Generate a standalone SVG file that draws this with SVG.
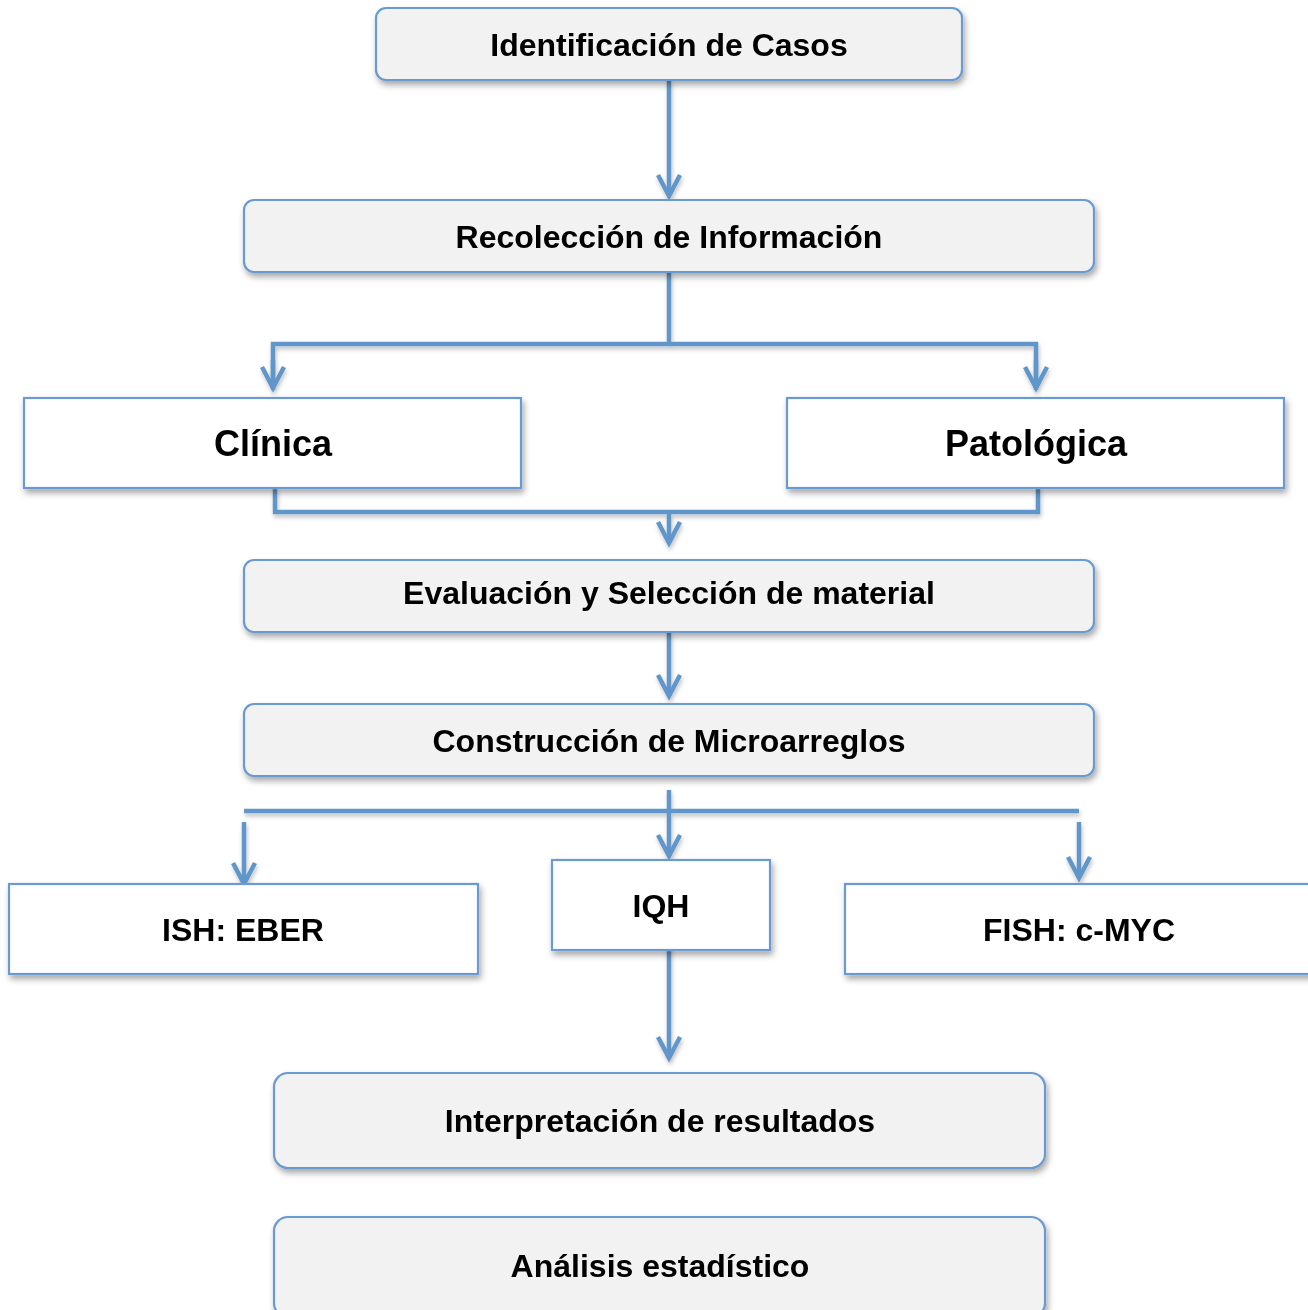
<svg xmlns="http://www.w3.org/2000/svg" width="1308" height="1310" viewBox="0 0 1308 1310">
<style>
.r{fill:#f2f2f2;stroke:#6a9bd0;stroke-width:2.2}
.s{fill:#ffffff;stroke:#6a9bd0;stroke-width:2.2}
.t{font-family:"Liberation Sans",Arial,sans-serif;font-weight:bold;font-size:32px;fill:#000;text-anchor:middle}
.b{font-size:36px}
.c{fill:none;stroke:#6096c9;stroke-width:4.5}
</style>
<defs>
<filter id="sh" x="-10%" y="-20%" width="120%" height="160%">
<feDropShadow dx="2" dy="4" stdDeviation="3" flood-color="#000" flood-opacity="0.35"/>
</filter>
<filter id="shl" x="-10%" y="-50%" width="120%" height="300%">
<feDropShadow dx="1" dy="3" stdDeviation="2" flood-color="#000" flood-opacity="0.25"/>
</filter>
<marker id="ah" markerUnits="userSpaceOnUse" markerWidth="40" markerHeight="40" viewBox="-30 -20 40 40" refX="0" refY="0" orient="auto" overflow="visible">
<path d="M-21,-11 L0,0 L-21,11" fill="none" stroke="#6096c9" stroke-width="4.5" stroke-linejoin="miter"/>
</marker>
</defs>
<g id="connectors" filter="url(#shl)">
<line class="c" x1="669" y1="80" x2="669" y2="196" marker-end="url(#ah)"/>
<polyline class="c" points="669,272 669,344"/>
<polyline class="c" points="273,390 273,344 1036,344 1036,390"/>
<line class="c" x1="273" y1="360" x2="273" y2="388" marker-end="url(#ah)"/>
<line class="c" x1="1036" y1="360" x2="1036" y2="388" marker-end="url(#ah)"/>
<polyline class="c" points="275,488 275,512 1038,512 1038,488"/>
<line class="c" x1="669" y1="512" x2="669" y2="543" marker-end="url(#ah)"/>
<line class="c" x1="669" y1="632" x2="669" y2="696" marker-end="url(#ah)"/>
<line class="c" x1="669" y1="790" x2="669" y2="856" marker-end="url(#ah)"/>
<line class="c" x1="244" y1="811" x2="1079" y2="811"/>
<line class="c" x1="244" y1="822" x2="244" y2="884" marker-end="url(#ah)"/>
<line class="c" x1="1079" y1="822" x2="1079" y2="878" marker-end="url(#ah)"/>
<line class="c" x1="669" y1="942" x2="669" y2="1058" marker-end="url(#ah)"/>
</g>
<g id="n1" filter="url(#sh)"><rect class="r" x="376" y="8" width="586" height="72" rx="10"/><text class="t" x="669" y="56">Identificación de Casos</text></g>
<g id="n2" filter="url(#sh)"><rect class="r" x="244" y="200" width="850" height="72" rx="10"/><text class="t" x="669" y="248">Recolección de Información</text></g>
<g id="n3" filter="url(#sh)"><rect class="s" x="24" y="398" width="497" height="90"/><text class="t b" x="273" y="456">Clínica</text></g>
<g id="n4" filter="url(#sh)"><rect class="s" x="787" y="398" width="497" height="90"/><text class="t b" x="1036" y="456">Patológica</text></g>
<g id="n5" filter="url(#sh)"><rect class="r" x="244" y="560" width="850" height="72" rx="10"/><text class="t" x="669" y="604">Evaluación y Selección de material</text></g>
<g id="n6" filter="url(#sh)"><rect class="r" x="244" y="704" width="850" height="72" rx="10"/><text class="t" x="669" y="752">Construcción de Microarreglos</text></g>
<g id="n7" filter="url(#sh)"><rect class="s" x="9" y="884" width="469" height="90"/><text class="t" x="243" y="941">ISH: EBER</text></g>
<g id="n8" filter="url(#sh)"><rect class="s" x="552" y="860" width="218" height="90"/><text class="t" x="661" y="917">IQH</text></g>
<g id="n9" filter="url(#sh)"><rect class="s" x="845" y="884" width="469" height="90"/><text class="t" x="1079" y="941">FISH: c-MYC</text></g>
<g id="n10" filter="url(#sh)"><rect class="r" x="274" y="1073" width="771" height="95" rx="14"/><text class="t" x="660" y="1132">Interpretación de resultados</text></g>
<g id="n11" filter="url(#sh)"><rect class="r" x="274" y="1217" width="771" height="100" rx="14"/><text class="t" x="660" y="1277">Análisis estadístico</text></g>
</svg>
